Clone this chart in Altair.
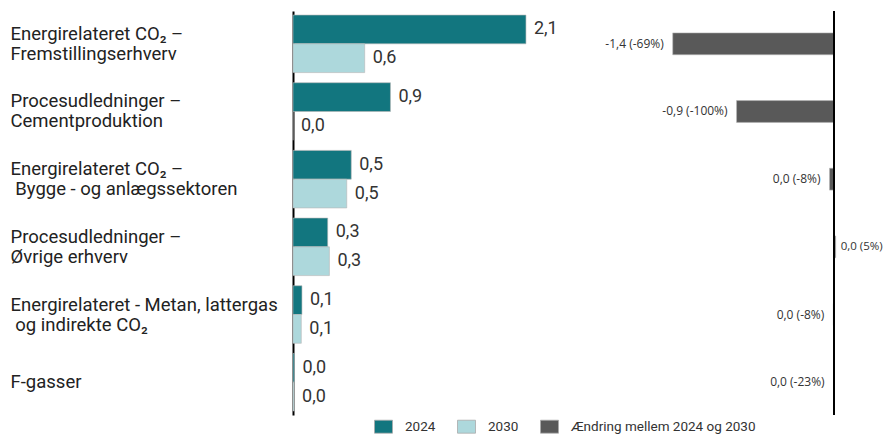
import altair as alt
import pandas as pd

categories = [
    "Energirelateret CO₂ –|Fremstillingserhverv",
    "Procesudledninger –|Cementproduktion",
    "Energirelateret CO₂ –|\u200b\u2005Bygge - og anlægssektoren",
    "Procesudledninger –|Øvrige erhverv",
    "Energirelateret - Metan, lattergas|\u200b\u2005og indirekte CO₂",
    "F-gasser",
]
v2024 = [2.08, 0.87, 0.52, 0.31, 0.08, 0.013]
v2030 = [0.64, 0.0, 0.48, 0.325, 0.074, 0.010]
pct_labels = ["-69%", "-100%", "-8%", "5%", "-8%", "-23%"]
series = ["2024", "2030"]
change_name = "Ændring mellem 2024 og 2030"

colors = ["#12767F", "#ADD8DC", "#595959"]
color_scale = alt.Scale(domain=series + [change_name], range=colors)

rows = []
for c, a, b in zip(categories, v2024, v2030):
    rows.append({"cat": c, "series": "2024", "value": a})
    rows.append({"cat": c, "series": "2030", "value": b})
left_df = pd.DataFrame(rows)

right_df = pd.DataFrame({
    "cat": categories,
    "change": [b - a for a, b in zip(v2024, v2030)],
    "pct": pct_labels,
    "name": [change_name] * len(categories),
})

PX = 112.0                 # pixels per unit
W, H = 587, 404            # plot area
ZERO2 = (834 - 293) / PX   # where the change panel's zero sits on the shared x scale

yscale = alt.Scale(paddingInner=0.15, paddingOuter=0.06)
y_enc = alt.Y(
    "cat:N", sort=categories, scale=yscale, title=None,
    axis=alt.Axis(
        labelExpr="split(datum.label, '|')", labelAlign="left", labelPadding=283,
        labelBaseline="middle",
        labelOffset={"condition": {"test": "indexof(datum.value, '|') >= 0", "value": -10}, "value": 0},
        ticks=False, domainColor="black", domainWidth=2, labelFont="Roboto",
        labelFontSize=18.5, labelColor="#222", labelLineHeight=20, labelLimit=0,
        grid=False,
    ),
)

legend = alt.Legend(
    title=None, orient="none", legendX=81, legendY=406, direction="horizontal",
    symbolType="M-1,-0.72H1V0.72H-1Z", symbolSize=324, symbolStrokeColor="#aaa",
    symbolStrokeWidth=0.8, symbolOpacity=1, labelFont="Roboto", labelFontSize=13.5,
    labelColor="#333", labelOffset=12, columnPadding=19, labelLimit=0,
)

xscale = alt.Scale(domain=[0, W / PX], nice=False, zero=True)

base_left = alt.Chart(left_df).transform_calculate(
    lab="replace(format(datum.value, '.1f'), '.', ',')"
)
bars_left = base_left.mark_bar(stroke="#b5b5b5", strokeWidth=0.6).encode(
    x=alt.X("value:Q", scale=xscale, axis=None), y=y_enc,
    yOffset=alt.YOffset("series:N", sort=series),
    color=alt.Color("series:N", scale=color_scale, legend=legend),
)
text_left = base_left.mark_text(
    align="left", dx=8, font="Roboto", fontSize=18, color="#333"
).encode(
    x="value:Q", y=y_enc, yOffset=alt.YOffset("series:N", sort=series), text="lab:N"
)

base_right = alt.Chart(right_df).transform_calculate(
    lab="replace(replace(replace(format(datum.change, '.1f'), '.', ','), '\u2212', '-'), '-0,0', '0,0') + ' (' + datum.pct + ')'",
    x0=f"{ZERO2}",
    x1=f"{ZERO2} + datum.change",
)
bars_right = base_right.mark_bar(stroke="#b5b5b5", strokeWidth=0.6, height={"band": 0.38}).encode(
    x="x1:Q", x2="x0:Q", y=y_enc,
    color=alt.Color("name:N", scale=color_scale, legend=legend),
)
text_neg = base_right.transform_filter("datum.change < 0").mark_text(
    align="right", dx=-9, font="Open Sans", fontSize=12, color="#333"
).encode(x="x1:Q", y=y_enc, text="lab:N")
text_pos = base_right.transform_filter("datum.change >= 0").mark_text(
    align="left", dx=5, font="Open Sans", fontSize=11.5, color="#333"
).encode(x="x1:Q", y=y_enc, text="lab:N")
rule = base_right.mark_rule(color="black", strokeWidth=2).encode(x="x0:Q")

chart = alt.layer(
    bars_left, text_left, bars_right, rule, text_neg, text_pos
).properties(
    width=W, height=H,
    padding={"left": 2, "top": 2, "right": 0, "bottom": 0},
).configure_view(stroke=None).configure_axis(grid=False)

chart.save("out.html", embed_options={"renderer": "svg", "actions": False})
